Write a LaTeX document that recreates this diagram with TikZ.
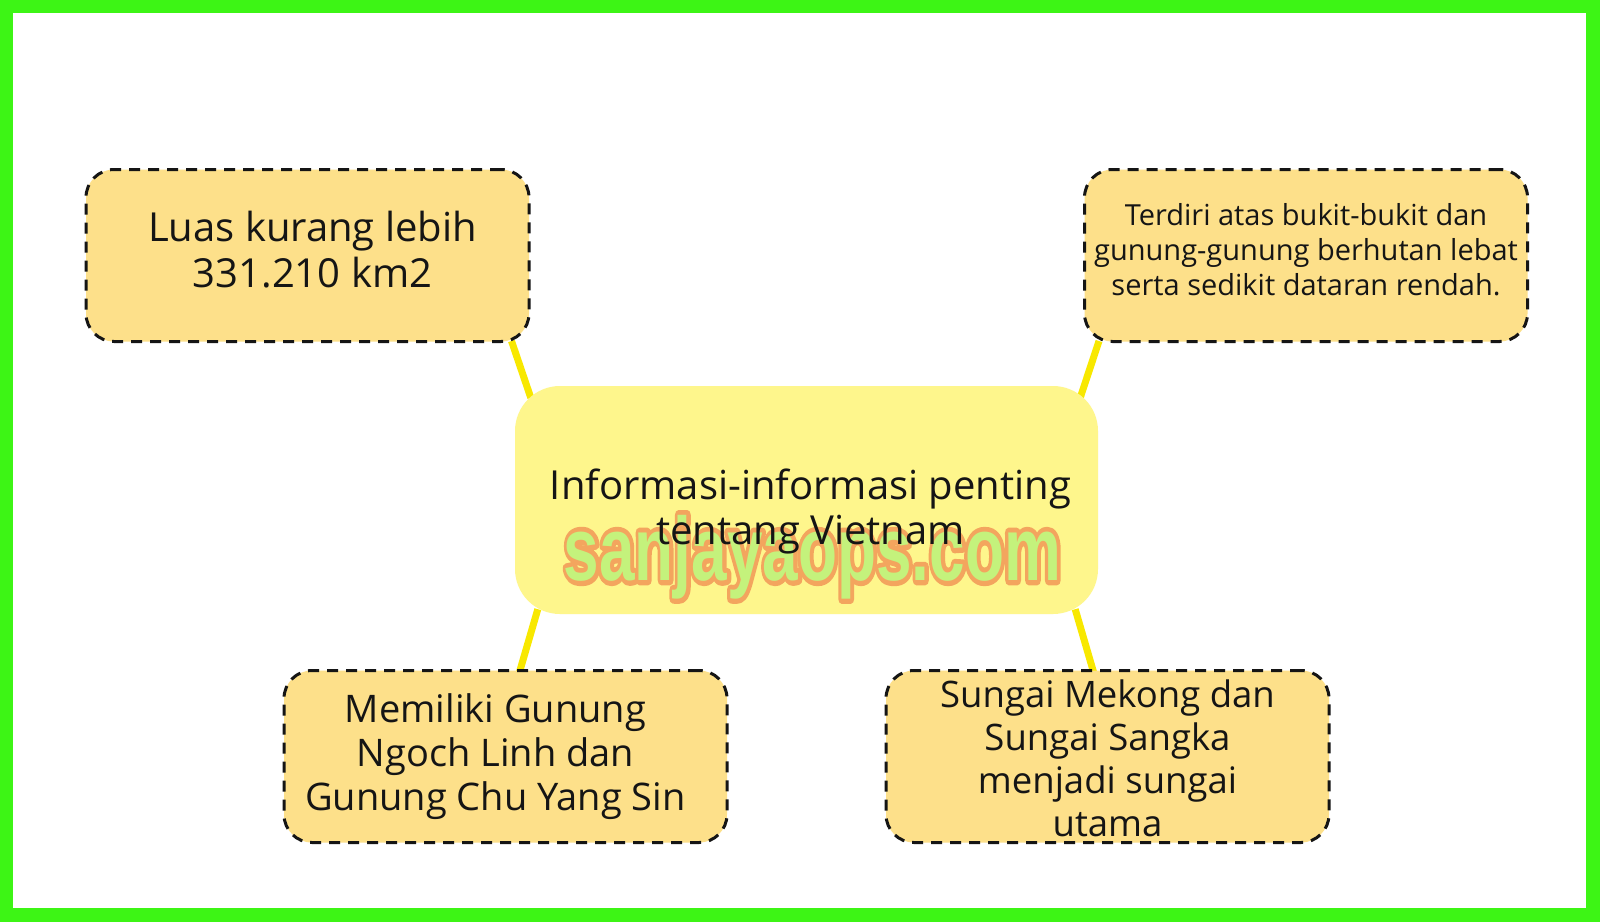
\documentclass[tikz,border=0pt]{standalone}
\usepackage{fontspec}
\setmainfont{Open Sans}
\newfontfamily\wmfont{Liberation Sans}[BoldFont={Liberation Sans Bold}]
\usetikzlibrary{calc,backgrounds}
\definecolor{gborder}{HTML}{3DF515}
\definecolor{boxfill}{HTML}{FDE08A}
\definecolor{cfill}{HTML}{FEF68C}
\definecolor{conn}{HTML}{F8E800}
\definecolor{wmorange}{HTML}{F3A55E}
\definecolor{wmgreen}{HTML}{C4F27C}
\definecolor{ink}{HTML}{151515}
\newcommand{\outlinedtext}[1]{\special{pdf:literal direct 2 Tr 10 w 1 J 1 j 0.953 0.647 0.369 RG}#1\special{pdf:literal direct 0 Tr}}
\begin{document}
\begin{tikzpicture}[x=1pt,y=-1pt,
  infobox/.style={draw=ink, line width=3pt, dash pattern=on 11pt off 8pt,
    fill=boxfill, rounded corners=28pt, minimum width=443pt,
    minimum height=172pt, inner sep=0pt},
  boxtext/.style={align=center, inner sep=0pt, text=ink},
  centerbox/.style={fill=cfill, rounded corners=45pt, minimum width=583pt,
    minimum height=228pt, inner sep=0pt},
  connector/.style={draw=conn, line width=7pt},
  wmtext/.style={font=\wmfont\bfseries\fontsize{90}{90}\selectfont, inner sep=0pt}]
\useasboundingbox (0,0) rectangle (1600,922);

\node[infobox] (tl) at (307.5,255.5) {};
\node[boxtext, font=\fontsize{40}{46}\selectfont] (tlt) at ($(tl.center)+(5,-6)$)
  {Luas kurang lebih\\331.210 km2};
\node[infobox] (tr) at (1306,255.5) {};
\node[boxtext, font=\fontsize{29}{35}\selectfont] (trt) at ($(tr.center)+(0,-6)$)
  {Terdiri atas bukit-bukit dan\\gunung-gunung berhutan lebat\\serta sedikit dataran rendah.};
\node[centerbox] (c) at (806.5,500) {};
\node[infobox] (bl) at (505.5,756.5) {};
\node[boxtext, font=\fontsize{38}{44}\selectfont] (blt) at ($(bl.center)+(-10,0)$)
  {Memiliki Gunung\\Ngoch Linh dan\\Gunung Chu Yang Sin};
\node[infobox] (br) at (1107.5,756.5) {};
\node[boxtext, font=\fontsize{36.5}{43}\selectfont] (brt) at ($(br.center)+(0,2)$)
  {Sungai Mekong dan\\Sungai Sangka\\menjadi sungai\\utama};

\begin{pgfonlayer}{background}
  \fill[gborder] (0,0) rectangle (1600,922);
  \fill[white] (13,13) rectangle (1586,908);
  \draw[connector] ($(tl.south east)+(-19,-2)$) -- ($(c.north west)+(16,12)$);
  \draw[connector] ($(tr.south west)+(16,-2)$) -- ($(c.north east)+(-18,12)$);
  \draw[connector] ($(c.south west)+(23,-5)$) -- ($(bl.north east)+(-209,3)$);
  \draw[connector] ($(c.south east)+(-23,-5)$) -- ($(br.north west)+(209,3)$);
\end{pgfonlayer}

\node[wmtext, text=wmorange] (wmo) at ($(c.center)+(6,57)$) {\scalebox{0.71}[1]{\outlinedtext{sanjayaops.com}}};
\node[wmtext, text=wmgreen] (wm) at (wmo.center) {\scalebox{0.71}[1]{sanjayaops.com}};

\node[boxtext, font=\fontsize{40}{45}\selectfont] (ct) at ($(c.center)+(4,11)$)
  {Informasi-informasi penting\\tentang Vietnam};
\end{tikzpicture}
\end{document}
